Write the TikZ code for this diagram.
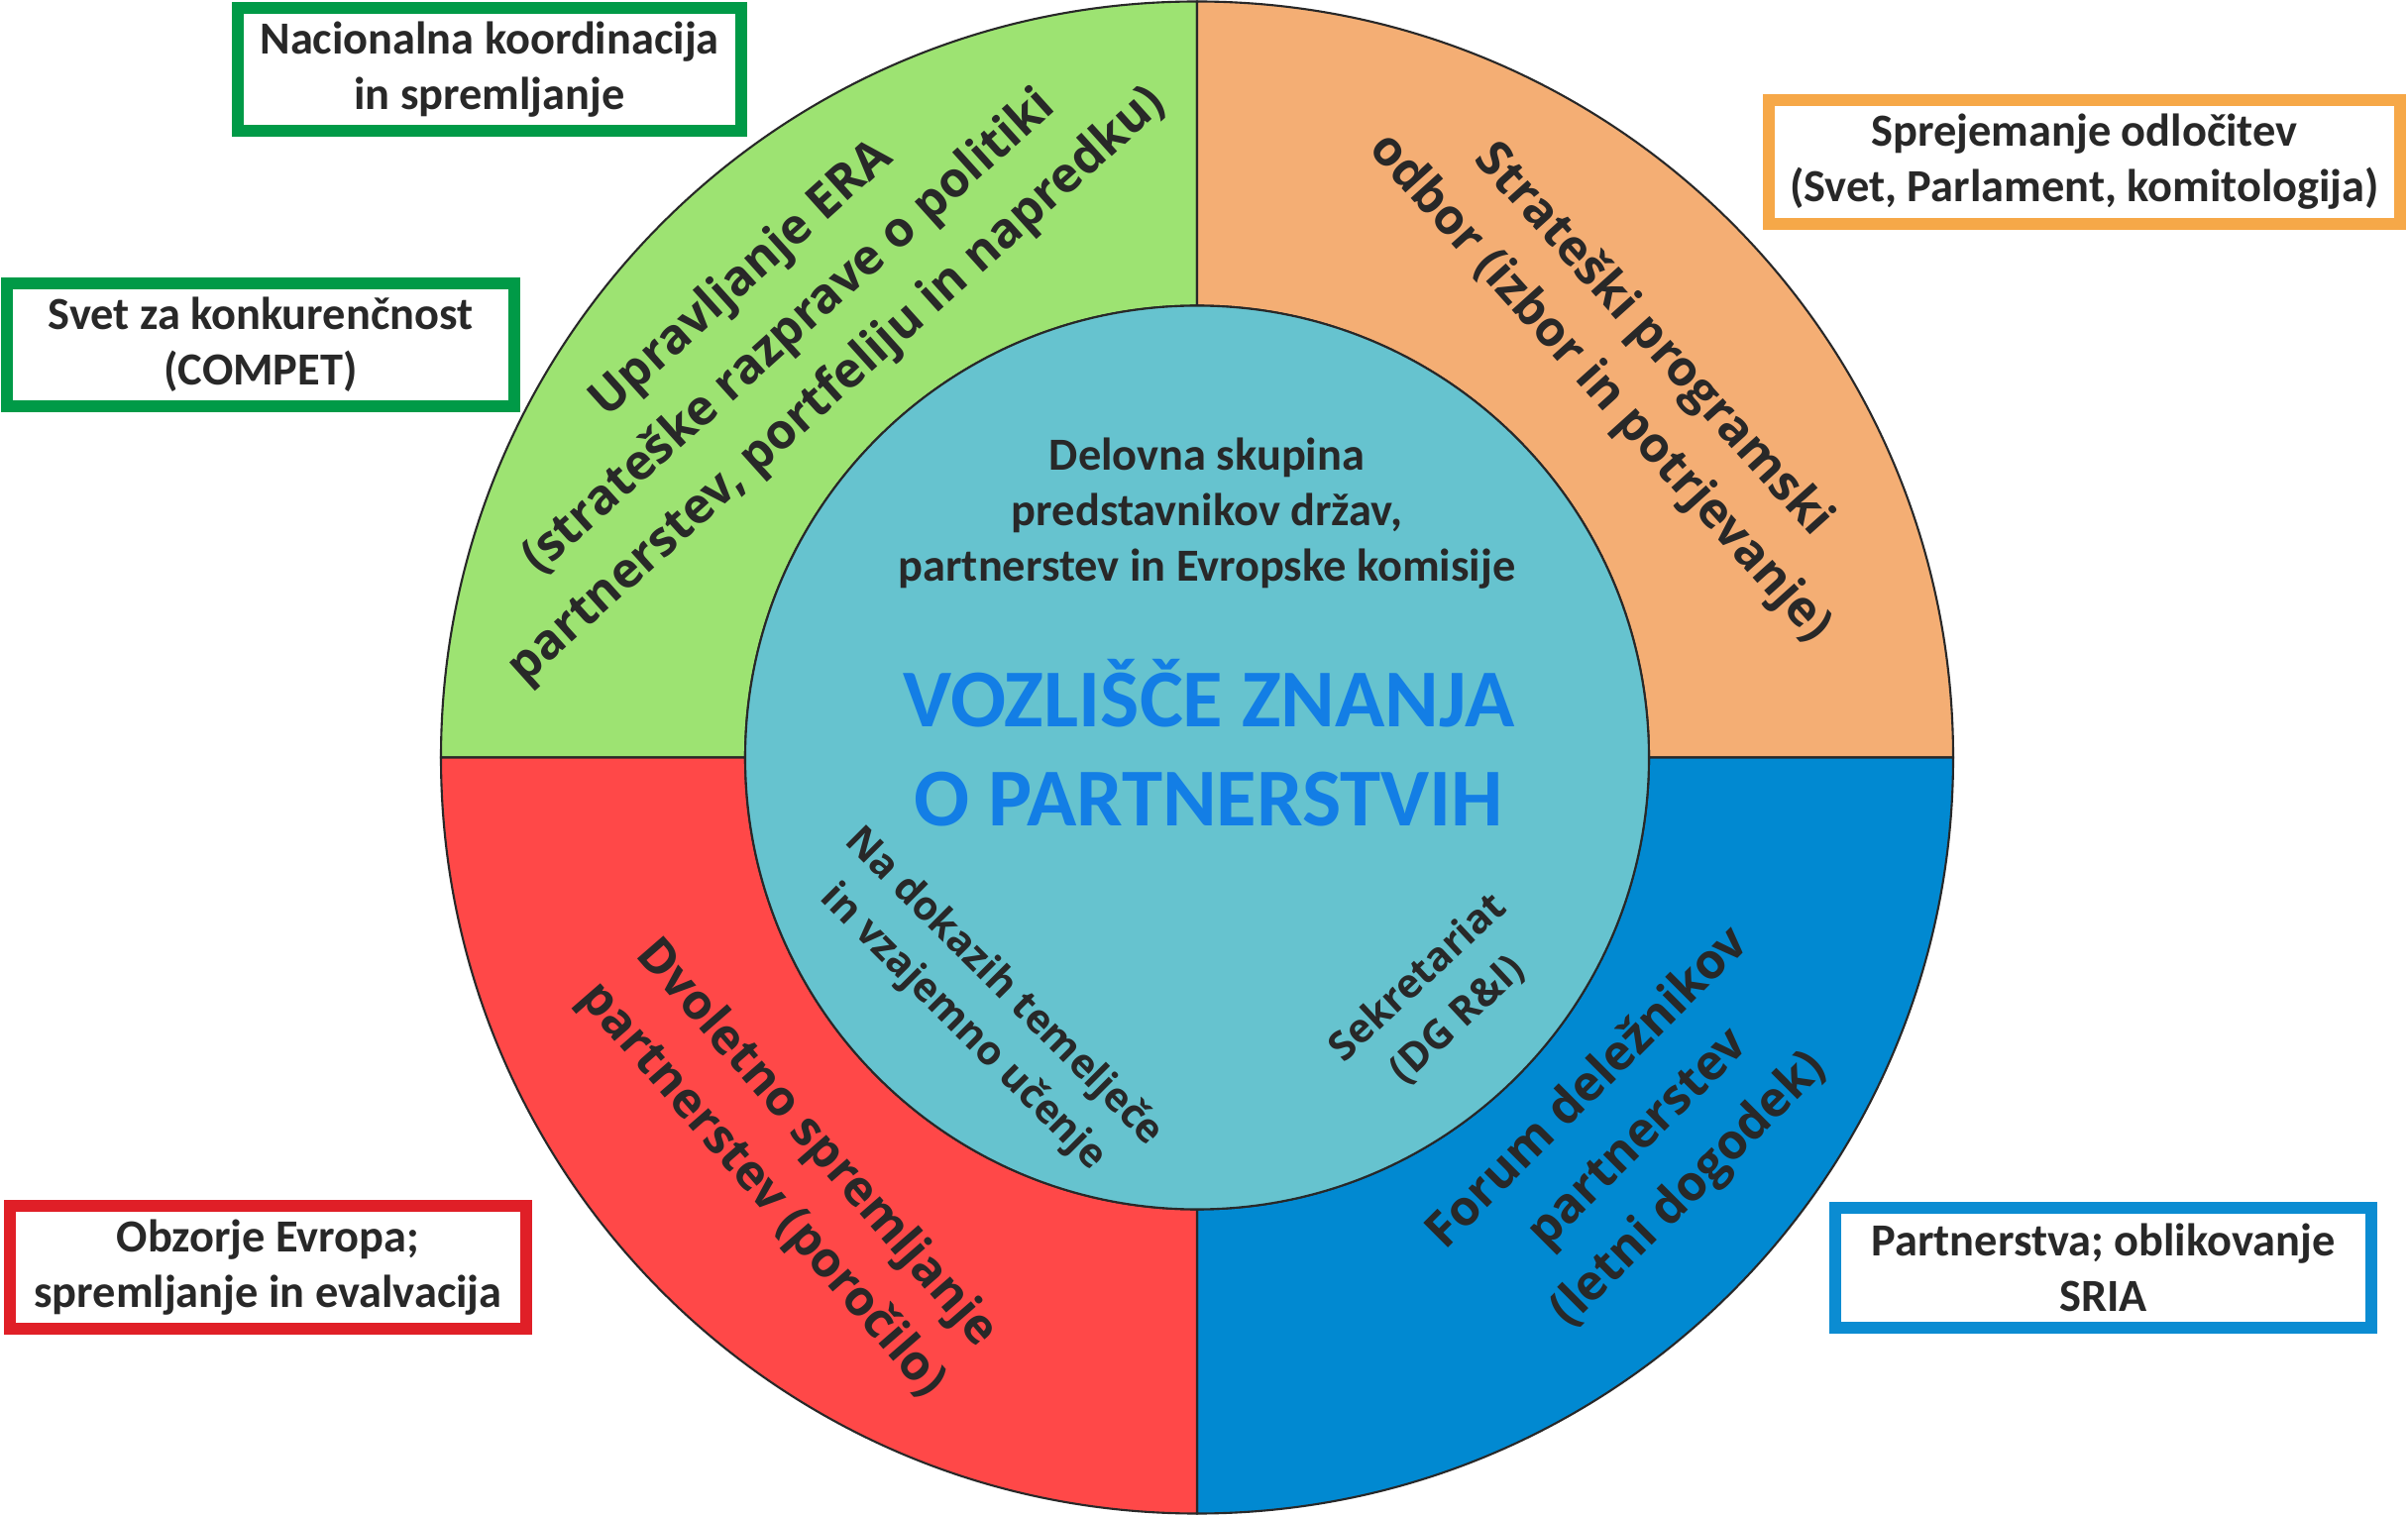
\documentclass[tikz,border=0pt]{standalone}
\usepackage{fontspec}
\setmainfont{Carlito}
\newfontfamily\ringfont{Open Sans}
\definecolor{ringgreen}{HTML}{9DE372}
\definecolor{ringorange}{HTML}{F4AE74}
\definecolor{ringred}{HTML}{FF4848}
\definecolor{ringblue}{HTML}{0189D1}
\definecolor{hubteal}{HTML}{66C3CF}
\definecolor{titleblue}{HTML}{137EE5}
\definecolor{inkdark}{HTML}{282828}
\definecolor{boxgreen}{HTML}{009A47}
\definecolor{boxorange}{HTML}{F6A848}
\definecolor{boxred}{HTML}{E01F27}
\definecolor{boxblue}{HTML}{0B8CD2}
\begin{document}
\begin{tikzpicture}[
    seg/.style={draw=inkdark, line width=0.6pt},
    outbox/.style={draw=#1, line width=0.12cm, fill=white, align=center, inner sep=0pt,
        text=inkdark, font=\bfseries\fontsize{13.2}{15.9}\selectfont},
    ringtext/.style={align=center, text=inkdark, font=\ringfont\bfseries\fontsize{14}{20.5}\selectfont},
    hubtext/.style={align=center, text=inkdark, font=\ringfont\bfseries\fontsize{11.5}{16.5}\selectfont}]
    \useasboundingbox (0, 0) rectangle (24.3, 15.29);
    \begin{scope}[shift={(12.08, 7.645)}]
    \draw[seg, fill=ringgreen] (180:7.63) arc[start angle=180, end angle=90, radius=7.63] -- (90:4.56) arc[start angle=90, end angle=180, radius=4.56] -- cycle;
    \draw[seg, fill=ringorange] (90:7.63) arc[start angle=90, end angle=0, radius=7.63] -- (0:4.56) arc[start angle=0, end angle=90, radius=4.56] -- cycle;
    \draw[seg, fill=ringblue] (0:7.63) arc[start angle=0, end angle=-90, radius=7.63] -- (-90:4.56) arc[start angle=-90, end angle=0, radius=4.56] -- cycle;
    \draw[seg, fill=ringred] (-90:7.63) arc[start angle=-90, end angle=-180, radius=7.63] -- (180:4.56) arc[start angle=180, end angle=270, radius=4.56] -- cycle;
    \draw[seg, fill=hubteal] (0, 0) circle [radius=4.56];
    \end{scope}
    \node[ringtext, rotate=42] (upravljanje) at (7.97, 11.93) {Upravljanje ERA\\(strateške razprave o politiki\\partnerstev, portfeliju in napredku)};
    \node[ringtext, rotate=-48] (strateski) at (16.41, 11.61) {Strateški programski\\odbor (izbor in potrjevanje)};
    \node[ringtext, rotate=-49] (dvoletno) at (7.96, 3.51) {Dvoletno spremljanje\\partnerstev (poročilo)};
    \node[ringtext, rotate=45] (forum) at (16.54, 3.79) {Forum deležnikov\\partnerstev\\(letni dogodek)};
    \node[hubtext, rotate=-45] (dokazi) at (9.92, 5.12) {Na dokazih temelječe\\in vzajemno učenje};
    \node[hubtext, rotate=43] (sekretariat) at (14.51, 5.21) {Sekretariat\\(DG R\&I)};
    \node[align=center, text=inkdark, font=\bfseries\fontsize{13.2}{15.9}\selectfont] (delovna) at (12.18, 10.11) {Delovna skupina\\predstavnikov držav,\\partnerstev in Evropske komisije};
    \node[align=center, text=titleblue, font=\bfseries\fontsize{23.6}{28.5}\selectfont] (vozlisce) at (12.20, 7.79) {VOZLIŠČE ZNANJA\\O PARTNERSTVIH};
    \node[outbox=boxgreen, minimum width=5.08cm, minimum height=1.24cm] (nacionalna) at (4.94, 14.59) {Nacionalna koordinacija\\in spremljanje};
    \node[outbox=boxgreen, minimum width=5.12cm, minimum height=1.24cm] (compet) at (2.63, 11.81) {Svet za konkurenčnost\\(COMPET)};
    \node[outbox=boxorange, minimum width=6.37cm, minimum height=1.25cm] (sprejemanje) at (21.035, 13.655) {Sprejemanje odločitev\\(Svet, Parlament, komitologija)};
    \node[outbox=boxred, minimum width=5.21cm, minimum height=1.24cm] (obzorje) at (2.705, 2.50) {Obzorje Evropa;\\spremljanje in evalvacija};
    \node[outbox=boxblue, minimum width=5.41cm, minimum height=1.21cm] (sria) at (21.225, 2.495) {Partnerstva; oblikovanje\\SRIA};
\end{tikzpicture}
\end{document}
